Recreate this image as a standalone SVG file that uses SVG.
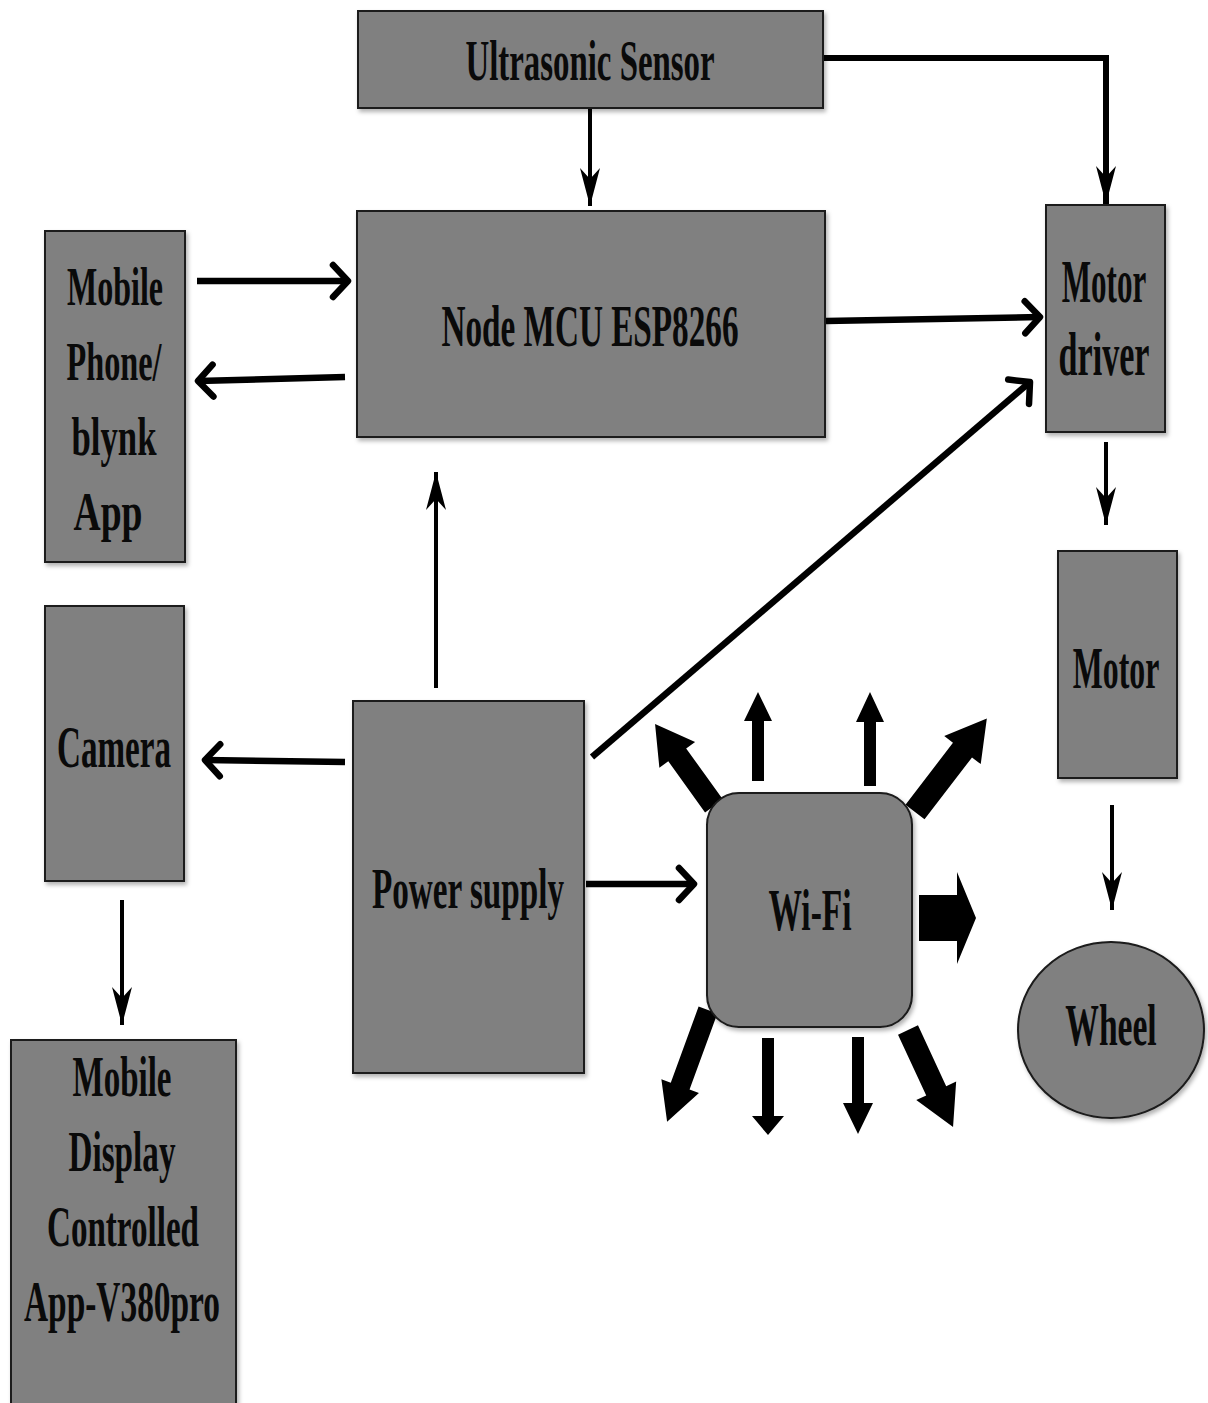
<svg xmlns="http://www.w3.org/2000/svg" width="1208" height="1403" viewBox="0 0 1208 1403">
<defs>
<style>
.box{fill:#808080;stroke:#1a1a1a;stroke-width:2;filter:url(#sh)}
.t{font-family:"Liberation Serif","Times New Roman",serif;font-weight:bold;fill:#0a0a0a;text-anchor:middle}
.ln{fill:none;stroke:#000;stroke-linecap:butt}
.thick{stroke-width:6.5;marker-end:url(#chev)}
.thin{stroke-width:4;marker-end:url(#barb)}
.blk{fill:#000}
</style>
<filter id="sh" x="-10%" y="-10%" width="130%" height="130%">
<feDropShadow dx="2" dy="3" stdDeviation="2" flood-color="#000" flood-opacity="0.3"/>
</filter>
<marker id="chev" markerUnits="userSpaceOnUse" viewBox="-24 -22 30 44" refX="0" refY="0" markerWidth="30" markerHeight="44" orient="auto" overflow="visible">
<path d="M-15,-16 L0,0 L-15,16" fill="none" stroke="#000" stroke-width="6.5" stroke-linecap="round" stroke-linejoin="round"/>
</marker>
<marker id="barb" markerUnits="userSpaceOnUse" viewBox="-40 -12 42 24" refX="0" refY="0" markerWidth="42" markerHeight="24" orient="auto" overflow="visible">
<path d="M0,0 L-38,-10 L-27,0 L-38,10 Z" fill="#000"/>
</marker>
</defs>
<rect width="1208" height="1403" fill="#fff"/>

<g id="connectors">
<path class="ln thin" d="M590,108 V206"/>
<path class="ln" style="stroke-width:6;marker-end:url(#barb)" d="M823,58 H1106 V204"/>
<path class="ln thick" d="M197,281 L348,281"/>
<path class="ln thick" d="M345,377 L198,381"/>
<path class="ln thick" d="M826,321 L1040,317"/>
<path class="ln thick" d="M592,757 L1030,382"/>
<path class="ln thin" d="M436,688 V472"/>
<path class="ln thick" d="M345,762 L205,760"/>
<path class="ln thick" d="M586,884 L694,884"/>
<path class="ln thin" d="M1106,442 V525"/>
<path class="ln thin" d="M1112,805 V910"/>
<path class="ln thin" d="M122,900 V1025"/>
</g>

<g id="wifi-arrows">
<polygon class="blk" transform="translate(714,806) rotate(-125.7)" points="0,-11 63,-11 63,-22 101,0 63,22 63,11 0,11"/>
<polygon class="blk" transform="translate(758,781) rotate(-90)" points="0,-6 60,-6 60,-14 89,0 60,14 60,6 0,6"/>
<polygon class="blk" transform="translate(870,786) rotate(-90)" points="0,-6 64,-6 64,-14 94,0 64,14 64,6 0,6"/>
<polygon class="blk" transform="translate(915,812) rotate(-52.5)" points="0,-12 78,-12 78,-23 118,0 78,23 78,12 0,12"/>
<polygon class="blk" transform="translate(919,918)" points="0,-23 38,-23 38,-46 57,0 38,46 38,23 0,23"/>
<polygon class="blk" transform="translate(708,1010) rotate(110.1)" points="0,-10 81,-10 81,-20 119,0 81,20 81,10 0,10"/>
<polygon class="blk" transform="translate(768,1038) rotate(90)" points="0,-6 78,-6 78,-16 97,0 78,16 78,6 0,6"/>
<polygon class="blk" transform="translate(858,1037) rotate(90)" points="0,-6 66,-6 66,-15 97,0 66,15 66,6 0,6"/>
<polygon class="blk" transform="translate(908,1030) rotate(65.1)" points="0,-11 67,-11 67,-22 107,0 67,22 67,11 0,11"/>
</g>

<g id="ultrasonic">
<rect class="box" x="358" y="11" width="465" height="97"/>
<text class="t" x="590" y="80" font-size="58" textLength="249" lengthAdjust="spacingAndGlyphs">Ultrasonic Sensor</text>
</g>

<g id="nodemcu">
<rect class="box" x="357" y="211" width="468" height="226"/>
<text class="t" x="590" y="346" font-size="60" textLength="297" lengthAdjust="spacingAndGlyphs">Node MCU ESP8266</text>
</g>

<g id="mobile-phone">
<rect class="box" x="45" y="231" width="140" height="331"/>
<text class="t" x="115" y="305" font-size="55" textLength="96" lengthAdjust="spacingAndGlyphs">Mobile</text>
<text class="t" x="114" y="380" font-size="55" textLength="95" lengthAdjust="spacingAndGlyphs">Phone/</text>
<text class="t" x="114" y="455" font-size="55" textLength="85" lengthAdjust="spacingAndGlyphs">blynk</text>
<text class="t" x="108" y="530" font-size="55" textLength="69" lengthAdjust="spacingAndGlyphs">App</text>
</g>

<g id="motor-driver">
<rect class="box" x="1046" y="205" width="119" height="227"/>
<text class="t" transform="translate(1104,302) scale(0.5,1)" font-size="62">Motor</text>
<text class="t" transform="translate(1104,375) scale(0.55,1)" font-size="62">driver</text>
</g>

<g id="motor">
<rect class="box" x="1058" y="551" width="119" height="227"/>
<text class="t" transform="translate(1116,688) scale(0.53,1)" font-size="60">Motor</text>
</g>

<g id="wheel">
<ellipse class="box" cx="1111" cy="1030" rx="93" ry="88"/>
<text class="t" transform="translate(1111,1045) scale(0.56,1)" font-size="60">Wheel</text>
</g>

<g id="camera">
<rect class="box" x="45" y="606" width="139" height="275"/>
<text class="t" x="114" y="767" font-size="60" textLength="114" lengthAdjust="spacingAndGlyphs">Camera</text>
</g>

<g id="mobile-display">
<rect class="box" x="11" y="1040" width="225" height="375"/>
<text class="t" x="122" y="1096" font-size="57" textLength="99" lengthAdjust="spacingAndGlyphs">Mobile</text>
<text class="t" x="122" y="1171" font-size="57" textLength="107" lengthAdjust="spacingAndGlyphs">Display</text>
<text class="t" x="123" y="1246" font-size="57" textLength="152" lengthAdjust="spacingAndGlyphs">Controlled</text>
<text class="t" x="122" y="1321" font-size="57" textLength="196" lengthAdjust="spacingAndGlyphs">App-V380pro</text>
</g>

<g id="power-supply">
<rect class="box" x="353" y="701" width="231" height="372"/>
<text class="t" x="468" y="908" font-size="58" textLength="192" lengthAdjust="spacingAndGlyphs">Power supply</text>
</g>

<g id="wifi">
<rect class="box" x="707" y="793" width="205" height="234" rx="32" ry="32"/>
<text class="t" x="810" y="930" font-size="60" textLength="83" lengthAdjust="spacingAndGlyphs">Wi-Fi</text>
</g>
</svg>
